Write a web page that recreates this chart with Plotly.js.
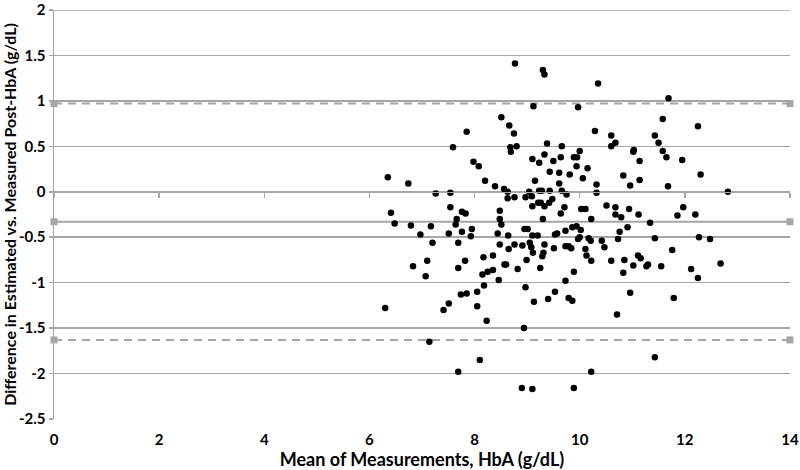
<!DOCTYPE html>
<html>
<head>
<meta charset="utf-8">
<script src="https://cdn.plot.ly/plotly-3.0.1.min.js"></script>
<style>html,body{margin:0;padding:0;background:#fff;}#chart{width:800px;height:470px;}</style>
</head>
<body>
<div id="chart"></div>
<script>
// Mean of measurements (x) and difference (y)
const meanHbA = [
6.35,6.74,7.26,6.41,6.48,6.79,7.17,6.97,7.20,7.10,6.83,7.07,6.30,7.41,7.14,
8.77,9.30,9.33,10.35,9.12,9.97,8.51,8.66,8.75,7.85,10.29,10.60,10.68,10.60,7.59,8.68,8.69,8.80,9.38,9.66,10.00,11.03,11.02,11.14,9.33,9.10,9.23,9.50,9.64,9.89,9.95,7.98,8.08,9.94,10.15,9.43,9.61,9.81,10.06,10.83,8.20,9.15,9.61,8.39,10.32,10.96,11.14,8.56,8.63,9.04,9.23,9.28,9.43,9.66,10.32,7.54,9.75,
8.63,8.76,8.97,9.09,7.54,7.76,7.83,7.66,7.64,8.48,8.48,8.51,9.21,9.26,9.33,9.42,9.48,9.10,9.71,9.64,9.30,10.03,10.11,10.51,10.68,10.68,10.79,10.94,11.12,10.22,
7.51,7.76,7.95,7.93,7.69,8.44,8.64,8.95,9.01,9.10,9.20,9.53,9.57,9.73,9.86,9.94,10.02,9.97,10.00,10.17,10.21,10.42,10.47,10.73,10.76,10.91,
8.48,8.65,8.76,8.91,9.05,9.08,9.11,9.31,9.33,9.29,9.51,9.73,9.79,9.84,10.11,10.13,10.22,10.60,10.85,11.11,11.16,11.02,11.27,10.83,
7.82,7.69,8.17,8.35,8.57,8.60,8.82,8.99,9.25,8.15,8.25,8.35,8.46,8.18,9.89,9.73,8.97,7.74,7.85,8.05,9.53,9.40,9.13,9.79,9.86,10.96,
7.51,8.05,8.23,8.94,10.71,8.10,7.69,10.22,8.90,9.10,9.89,
11.69,11.58,12.25,11.43,11.50,11.58,11.65,11.95,11.68,12.30,12.82,
11.34,11.97,11.86,12.20,11.43,12.27,12.48,11.76,11.30,11.55,12.12,12.68,12.25,11.79,
11.43
];
const diffHbA = [
0.16,0.09,-0.02,-0.23,-0.35,-0.37,-0.38,-0.47,-0.56,-0.76,-0.82,-0.93,-1.28,-1.30,-1.65,
1.41,1.34,1.29,1.19,0.94,0.93,0.82,0.73,0.64,0.66,0.67,0.62,0.54,0.50,0.49,0.49,0.44,0.50,0.53,0.50,0.45,0.46,0.44,0.34,0.41,0.36,0.32,0.34,0.38,0.38,0.38,0.33,0.28,0.28,0.26,0.22,0.21,0.19,0.15,0.18,0.12,0.12,0.09,0.06,0.08,0.07,0.13,0.03,0.00,0.00,0.01,0.01,0.01,0.01,-0.01,-0.01,-0.03,
-0.07,-0.06,-0.06,-0.05,-0.17,-0.22,-0.24,-0.30,-0.36,-0.21,-0.30,-0.36,-0.12,-0.12,-0.16,-0.12,-0.08,-0.16,-0.17,-0.24,-0.30,-0.19,-0.19,-0.15,-0.17,-0.25,-0.28,-0.19,-0.25,-0.30,
-0.46,-0.44,-0.41,-0.49,-0.56,-0.46,-0.48,-0.41,-0.41,-0.48,-0.48,-0.47,-0.46,-0.43,-0.39,-0.38,-0.42,-0.52,-0.50,-0.51,-0.54,-0.54,-0.61,-0.52,-0.44,-0.39,
-0.58,-0.63,-0.58,-0.59,-0.56,-0.61,-0.67,-0.67,-0.58,-0.71,-0.62,-0.60,-0.60,-0.62,-0.63,-0.70,-0.76,-0.76,-0.75,-0.70,-0.73,-0.81,-0.82,-0.89,
-0.76,-0.84,-0.72,-0.70,-0.80,-0.80,-0.85,-0.75,-0.84,-0.91,-0.88,-0.86,-0.97,-1.03,-0.88,-0.98,-1.05,-1.13,-1.12,-1.10,-1.10,-1.18,-1.21,-1.17,-1.20,-1.11,
-1.23,-1.26,-1.42,-1.50,-1.35,-1.85,-1.98,-1.98,-2.16,-2.17,-2.16,
1.03,0.80,0.72,0.62,0.54,0.45,0.38,0.35,0.06,0.19,0.00,
-0.34,-0.17,-0.26,-0.25,-0.51,-0.50,-0.52,-0.64,-0.80,-0.82,-0.85,-0.79,-0.95,-1.17,
-1.82
];
// Bias and limits of agreement
const limitX = [0, 14];
const meanBias = -0.33;
const upperLimit = 0.97;
const lowerLimit = -1.63;
const xTicks = [0, 2, 4, 6, 8, 10, 12, 14];
const yTicks = [-2.5, -2, -1.5, -1, -0.5, 0, 0.5, 1, 1.5, 2];

const lineColor = '#a6a6a6';
const fontFam = 'Lato, "Open Sans", Arial, sans-serif';
const yMin = -2.5, yMax = 2;

const traces = [
  {x: limitX, y: [upperLimit, upperLimit], mode: 'lines+markers', type: 'scatter',
   line: {color: lineColor, width: 2, dash: '8px,6px'}, marker: {symbol: 'square', size: 7, color: lineColor},
   hoverinfo: 'skip', showlegend: false, cliponaxis: false},
  {x: limitX, y: [lowerLimit, lowerLimit], mode: 'lines+markers', type: 'scatter',
   line: {color: lineColor, width: 2, dash: '8px,6px'}, marker: {symbol: 'square', size: 7, color: lineColor},
   hoverinfo: 'skip', showlegend: false, cliponaxis: false},
  {x: limitX, y: [meanBias, meanBias], mode: 'lines+markers', type: 'scatter',
   line: {color: lineColor, width: 2}, marker: {symbol: 'square', size: 7, color: lineColor},
   hoverinfo: 'skip', showlegend: false, cliponaxis: false},
  {x: meanHbA, y: diffHbA, mode: 'markers', type: 'scatter',
   marker: {color: '#000', size: 6.5}, showlegend: false}
];

const layout = {
  width: 800, height: 470,
  margin: {l: 54, r: 10, t: 10, b: 51},
  paper_bgcolor: '#fff', plot_bgcolor: '#fff',
  font: {family: fontFam, color: '#000'},
  showlegend: false,
  xaxis: {
    range: [0, 14.001], tickvals: xTicks, ticktext: xTicks.map(String),
    showgrid: false, zeroline: false, showline: false, ticks: '',
    ticklabeloverflow: 'allow', ticklabelstandoff: 10,
    tickfont: {size: 15, weight: 'bold', family: fontFam},
    title: {text: 'Mean of Measurements, HbA (g/dL)', font: {size: 18, weight: 'bold', family: fontFam}, standoff: 4},
    fixedrange: true
  },
  xaxis2: {
    range: [0, 14.001], overlaying: 'x', anchor: 'free', position: (0 - yMin) / (yMax - yMin),
    tickvals: xTicks, showticklabels: false, showgrid: false, zeroline: false,
    showline: true, linecolor: lineColor, linewidth: 1.5,
    ticks: 'outside', ticklen: 5, tickcolor: lineColor, tickwidth: 1.5
  },
  yaxis: {
    range: [yMin, yMax], tickvals: yTicks, ticktext: yTicks.map(String),
    showgrid: true, gridcolor: lineColor, gridwidth: 1.5,
    zeroline: false, showline: true, linecolor: lineColor, linewidth: 1.5,
    ticks: 'outside', ticklen: 4, tickcolor: lineColor, tickwidth: 1.5,
    ticklabeloverflow: 'allow',
    tickfont: {size: 15, weight: 'bold', family: fontFam},
    title: {text: 'Difference in Estimated vs. Measured Post-HbA (g/dL)', font: {size: 16, weight: 'bold', family: fontFam}, standoff: 4},
    fixedrange: true
  },
  shapes: [
    {type: 'line', xref: 'paper', x0: 0, x1: 1, yref: 'y', y0: yMax, y1: yMax,
     line: {color: lineColor, width: 1.5}, layer: 'above'}
  ]
};

// dummy trace to activate xaxis2
traces.push({x: [null], y: [null], xaxis: 'x2', type: 'scatter', mode: 'markers', showlegend: false, hoverinfo: 'skip'});

Plotly.newPlot('chart', traces, layout, {displayModeBar: false, staticPlot: true});
</script>
</body>
</html>
